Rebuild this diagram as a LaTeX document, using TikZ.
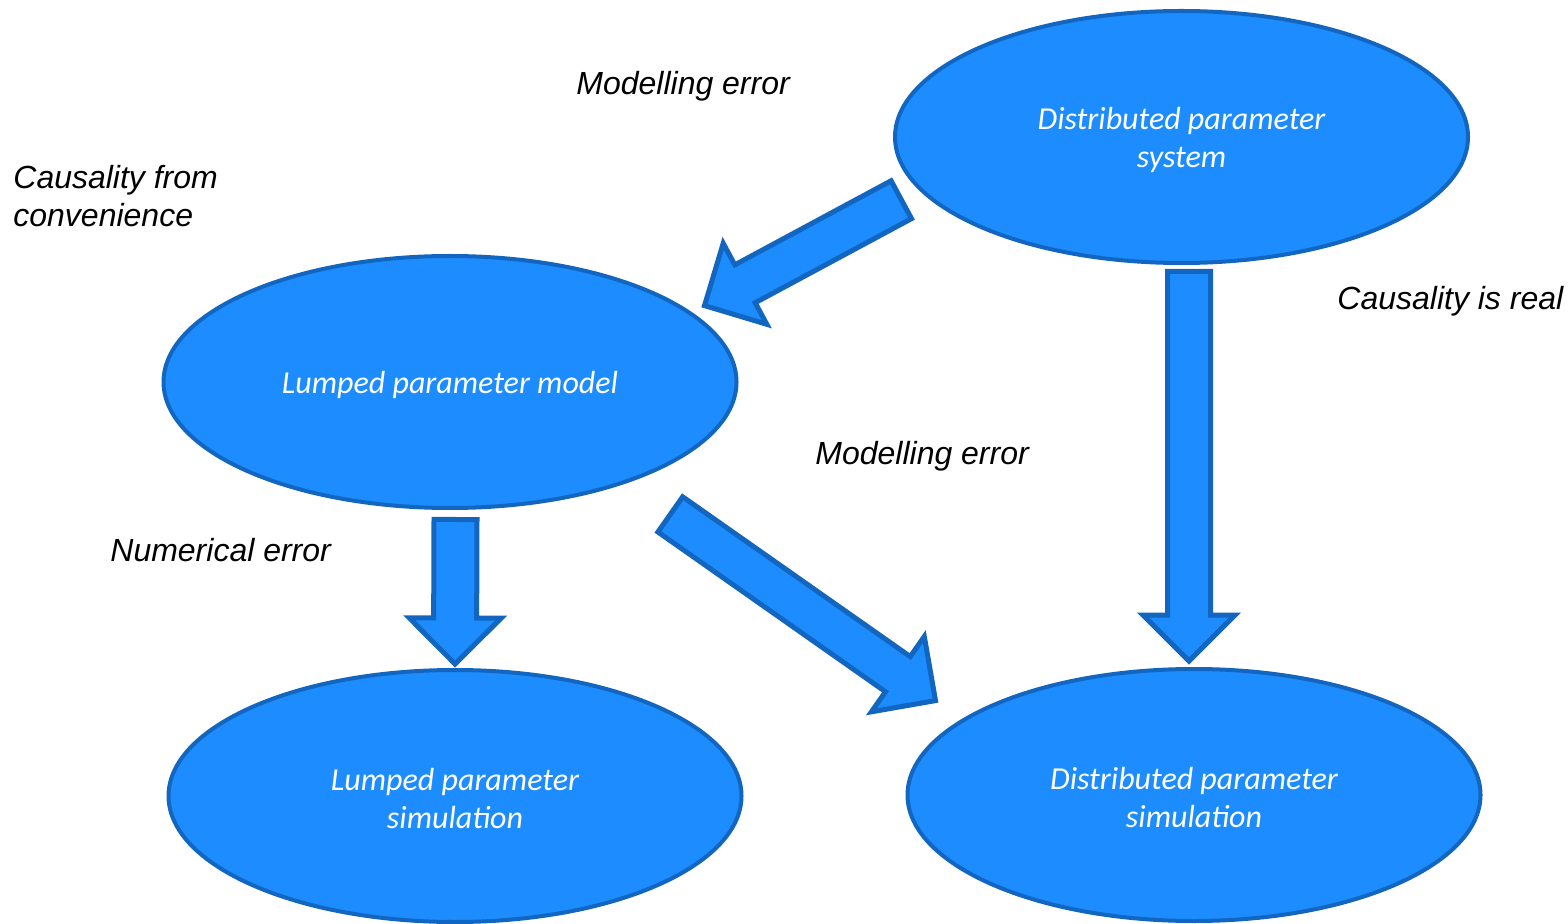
\documentclass[tikz,border=0pt]{standalone}
\usepackage{fontspec}
\setmainfont{Liberation Sans}
\newfontfamily\calibrifont{Carlito}
\usetikzlibrary{shapes.geometric,calc}
\definecolor{bluefill}{RGB}{28,140,255}
\definecolor{blueedge}{RGB}{18,102,192}
\tikzset{
  oval/.style={ellipse, draw=blueedge, fill=bluefill, line width=2pt,
    minimum width=286.5pt, minimum height=126pt, inner sep=0pt},
  ovaltext/.style={text=white, align=center, inner sep=0pt,
    font=\calibrifont\itshape\fontsize{16pt}{19pt}\selectfont},
  lbl/.style={anchor=west, align=left, inner sep=0pt, text=black,
    font=\itshape\fontsize{16pt}{19pt}\selectfont},
  barrow/.style={draw=blueedge, fill=bluefill, line width=2.5pt, line join=miter}
}
\newcommand{\blockarrow}[2]{%
  \path ($(#2)!23pt!(#1)$) coordinate (#2-base);
  \draw[barrow] ($(#1)!10.75pt!90:(#2)$) -- ($(#2-base)!10.75pt!90:(#2)$)
    -- ($(#2-base)!23pt!90:(#2)$) -- (#2) -- ($(#2-base)!23pt!-90:(#2)$)
    -- ($(#2-base)!10.75pt!-90:(#2)$) -- ($(#1)!10.75pt!-90:(#2)$) -- cycle;}
\begin{document}
\begin{tikzpicture}[x=0.5pt,y=-0.5pt]
\useasboundingbox (0,0) rectangle (1568,924);
% ellipses
\node[oval] (dps) at (1181.5,137) {};
\node[oval] (lpm) at (450,382) {};
\node[oval] (lps) at (455,796) {};
\node[oval] (dpsim) at (1194,795) {};
\node[ovaltext] (dps-t) at ([yshift=-1.5pt]dps.center) {Distributed parameter\\system};
\node[ovaltext] (lpm-t) at ([yshift=-1.5pt]lpm.center) {Lumped parameter model};
\node[ovaltext] (lps-t) at ([yshift=-1.5pt]lps.center) {Lumped parameter\\simulation};
\node[ovaltext] (dpsim-t) at ([yshift=-1.5pt]dpsim.center) {Distributed parameter\\simulation};
% arrow end points
\coordinate (a1t) at (901.3,199.7);
\coordinate (a1h) at (704.5,305.6);
\coordinate (a2t) at (455.5,519.5);
\coordinate (a2h) at (455,664);
\coordinate (a3t) at (670.3,514.4);
\coordinate (a3h) at (935.5,700.6);
\coordinate (a4t) at (1189,271.5);
\coordinate (a4h) at (1189,661);
\blockarrow{a1t}{a1h}
\blockarrow{a2t}{a2h}
\blockarrow{a3t}{a3h}
\blockarrow{a4t}{a4h}
% labels
\node[lbl] (l1) at (576,86) {Modelling error};
\node[lbl] (l2) at (13,196) {Causality from\\convenience};
\node[lbl] (l3) at (1337,301) {Causality is real};
\node[lbl] (l4) at (815,456) {Modelling error};
\node[lbl] (l5) at (110,550) {Numerical error};
\end{tikzpicture}
\end{document}
